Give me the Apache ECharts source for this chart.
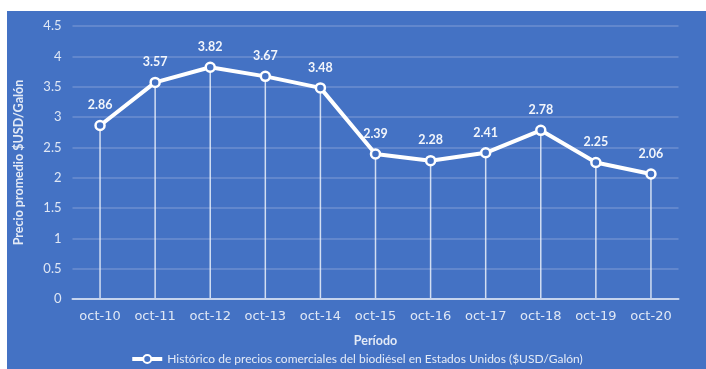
<!DOCTYPE html>
<html><head><meta charset="utf-8">
<script src="https://cdn.jsdelivr.net/npm/echarts@6/dist/echarts.min.js"></script>
<style>html,body{margin:0;padding:0;background:#fff;}#c{position:absolute;left:7px;top:11px;width:699px;height:358px;}</style>
</head><body><div id="c"></div>
<script>
const categories = ['oct-10','oct-11','oct-12','oct-13','oct-14','oct-15','oct-16','oct-17','oct-18','oct-19','oct-20'];
const prices = [2.86,3.57,3.82,3.67,3.48,2.39,2.28,2.41,2.78,2.25,2.06];
const seriesName = 'Histórico de precios comerciales del biodiésel en Estados Unidos ($USD/Galón)';
const font = 'Lato, "Open Sans", sans-serif';
const chart = echarts.init(document.getElementById('c'));
chart.setOption({
  backgroundColor: '#4472C4',
  animation: false,
  grid: {left: 65.5, top: 15, right: 27.5, bottom: 70, outerBoundsMode: 'none', containLabel: false},
  legend: {
    data: [seriesName], bottom: 4, left: 'center', padding: 0,
    itemWidth: 30, itemHeight: 10, itemGap: 4,
    lineStyle: {width: 4},
    textStyle: {color: '#e3eaf6', fontFamily: font, fontSize: 12}
  },
  xAxis: {
    type: 'category', data: categories, boundaryGap: true,
    name: 'Período', nameLocation: 'middle', nameGap: 35,
    nameTextStyle: {color: '#e3eaf6', fontWeight: 'bold', fontFamily: font, fontSize: 12.5},
    axisLine: {lineStyle: {color: '#c6d4ee', width: 2}},
    axisTick: {show: false},
    axisLabel: {color: '#dfe7f5', fontFamily: '"DejaVu Sans", sans-serif', fontSize: 13, margin: 11},
    z: 5
  },
  yAxis: {
    type: 'value', min: 0, max: 4.5, interval: 0.5,
    name: 'Precio promedio $USD/Galón', nameLocation: 'middle', nameGap: 47,
    nameTextStyle: {color: '#e3eaf6', fontWeight: 'bold', fontFamily: font, fontSize: 12.5},
    axisLine: {show: false}, axisTick: {show: false},
    axisLabel: {color: '#dfe7f5', fontFamily: font, fontSize: 13, margin: 11},
    splitLine: {lineStyle: {color: '#6c8fd1', width: 1.5}}
  },
  series: [
    {
      type: 'bar', data: prices, barWidth: 1.5, silent: true,
      itemStyle: {color: 'rgba(235,241,250,0.85)'}
    },
    {
      name: seriesName, type: 'line', data: prices,
      lineStyle: {color: '#ffffff', width: 4},
      symbol: 'circle', symbolSize: 9,
      itemStyle: {color: '#4472C4', borderColor: '#ffffff', borderWidth: 2.5},
      label: {show: true, position: 'top', distance: 8, color: '#f2f5fb', fontWeight: 'bold', fontFamily: font, fontSize: 12.5}
    }
  ]
});
</script></body></html>
